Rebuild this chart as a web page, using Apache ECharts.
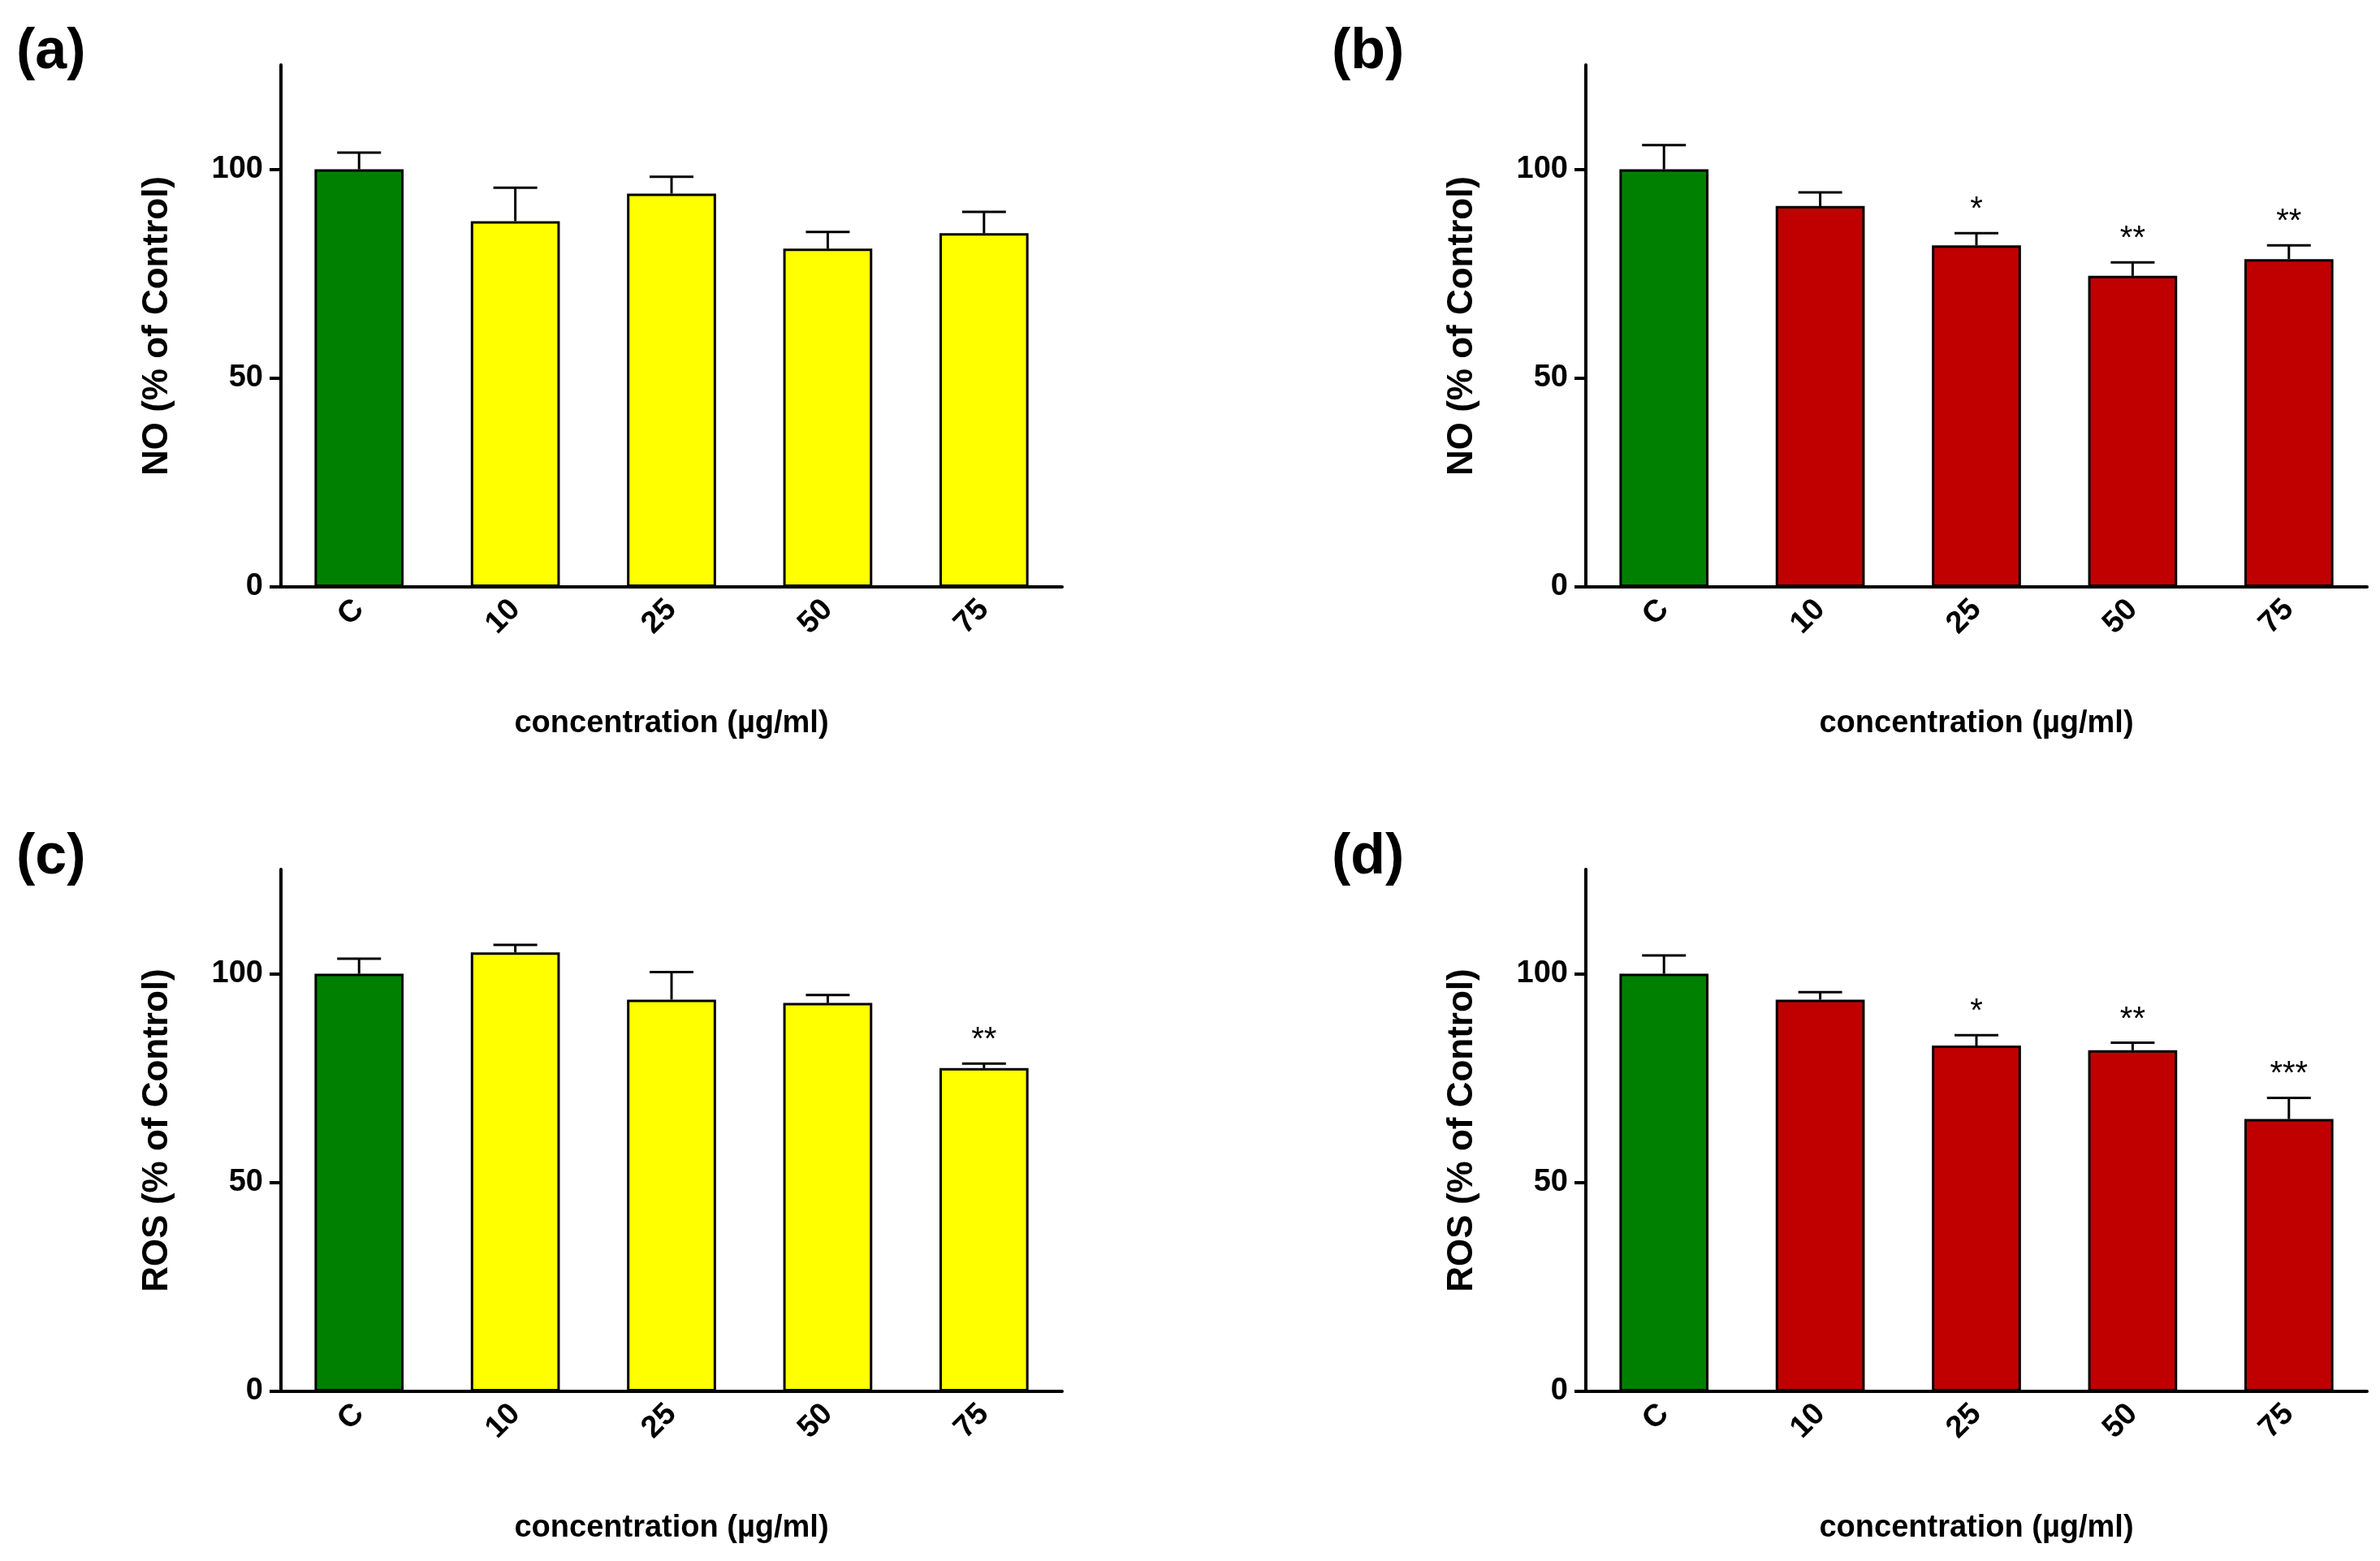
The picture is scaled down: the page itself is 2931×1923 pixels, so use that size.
<!DOCTYPE html>
<html>
<head>
<meta charset="utf-8">
<script src="https://cdn.jsdelivr.net/npm/echarts@6/dist/echarts.min.js"></script>
<style>html,body{margin:0;padding:0;background:#fff}#chart{width:2931px;height:1923px}</style>
</head>
<body>
<div id="chart"></div>
<script>
const categories = ['C', '10', '25', '50', '75']

// panel (a) NO, yellow
const aMean = [100, 87.6, 94.2, 81, 84.7]
const aSd = [4, 8, 4, 4, 5.1]
const aStars = ['', '', '', '', '']
// panel (b) NO, red
const bMean = [100, 91.2, 81.8, 74.5, 78.5]
const bSd = [5.8, 3.3, 2.9, 3.2, 3.3]
const bStars = ['', '', '*', '**', '**']
// panel (c) ROS, yellow
const cMean = [100, 105.1, 93.8, 93, 77.4]
const cSd = [3.6, 1.8, 6.6, 1.9, 1.1]
const cStars = ['', '', '', '', '**']
// panel (d) ROS, red
const dMean = [100, 93.8, 82.8, 81.7, 65.2]
const dSd = [4.4, 1.8, 2.5, 1.8, 5.1]
const dStars = ['', '', '*', '**', '***']

const panels = [
  { tag: '(a)', title: 'NO (% of Control)', mean: aMean, sd: aSd, stars: aStars, color: '#ffff00', left: 346, top: 80, tagX: 20, tagY: 30 },
  { tag: '(b)', title: 'NO (% of Control)', mean: bMean, sd: bSd, stars: bStars, color: '#c00000', left: 1953, top: 80, tagX: 1640, tagY: 30 },
  { tag: '(c)', title: 'ROS (% of Control)', mean: cMean, sd: cSd, stars: cStars, color: '#ffff00', left: 346, top: 1071, tagX: 20, tagY: 1022 },
  { tag: '(d)', title: 'ROS (% of Control)', mean: dMean, sd: dSd, stars: dStars, color: '#c00000', left: 1953, top: 1071, tagX: 1640, tagY: 1022 }
]

const font = 'Liberation Sans, Arial, sans-serif'
let grid = [], xAxis = [], yAxis = [], series = [], graphic = []

panels.forEach((p, i) => {
  grid.push({ left: p.left, top: p.top, width: 962, height: 643 })
  xAxis.push({
    type: 'category', gridIndex: i, data: categories,
    name: 'concentration (µg/ml)', nameLocation: 'middle', nameGap: 150,
    nameTextStyle: { fontFamily: font, fontWeight: 'bold', fontSize: 38, color: '#000' },
    axisLine: { lineStyle: { color: '#000', width: 4 } },
    axisTick: { alignWithLabel: true, length: 14, lineStyle: { width: 4 } },
    axisLabel: { rotate: 45, fontFamily: font, fontWeight: 'bold', fontSize: 38, color: '#000', margin: 22 }
  })
  yAxis.push({
    type: 'value', gridIndex: i, min: 0, max: 125, interval: 50,
    name: p.title, nameLocation: 'middle', nameGap: 130,
    nameTextStyle: { fontFamily: font, fontWeight: 'bold', fontSize: 44, color: '#000' },
    axisLine: { show: true, lineStyle: { color: '#000', width: 4 } },
    axisTick: { show: true, length: 14, lineStyle: { width: 4 } },
    axisLabel: { fontFamily: font, fontWeight: 'bold', fontSize: 38, color: '#000', margin: 22, showMaxLabel: false },
    splitLine: { show: false }
  })
  series.push({
    type: 'bar', xAxisIndex: i, yAxisIndex: i, barWidth: '57%',
    data: p.mean.map((v, k) => ({ value: v, itemStyle: { color: k === 0 ? '#008000' : p.color } })),
    itemStyle: { borderColor: '#000', borderWidth: 3 }, z: 2
  })
  series.push({
    type: 'custom', xAxisIndex: i, yAxisIndex: i, z: 1,
    data: p.mean.map((v, k) => [k, v, v + p.sd[k]]),
    renderItem: (params, api) => {
      const base = api.coord([api.value(0), api.value(1)])
      const top = api.coord([api.value(0), api.value(2)])
      const star = p.stars[params.dataIndex]
      const children = [
        { type: 'line', shape: { x1: base[0], y1: base[1], x2: top[0], y2: top[1] }, style: { stroke: '#000', lineWidth: 3 } },
        { type: 'line', shape: { x1: top[0] - 27, y1: top[1], x2: top[0] + 27, y2: top[1] }, style: { stroke: '#000', lineWidth: 3 } }
      ]
      if (star) children.push({ type: 'text', x: top[0], y: top[1] - 8, style: { text: star, fontSize: 40, fontFamily: font, fill: '#000', align: 'center', verticalAlign: 'bottom' } })
      return { type: 'group', children: children }
    }
  })
  graphic.push({ type: 'text', left: p.tagX, top: p.tagY, style: { text: p.tag, fontFamily: font, fontWeight: 'bold', fontSize: 70, fill: '#000' } })
})

const chart = echarts.init(document.getElementById('chart'))
chart.setOption({ animation: false, backgroundColor: '#fff', grid, xAxis, yAxis, series, graphic })
</script>
</body>
</html>
